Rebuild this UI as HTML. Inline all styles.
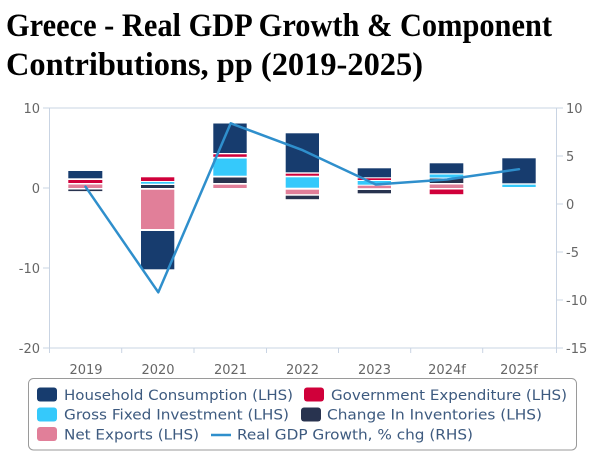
<!DOCTYPE html>
<html>
<head>
<meta charset="utf-8">
<style>
  html, body { margin: 0; padding: 0; background: #ffffff; }
  body { width: 600px; height: 458px; overflow: hidden; }
  svg { display: block; }
  .ttl { font-family: "Liberation Serif", "DejaVu Serif", serif; font-weight: bold; font-size: 33px; fill: #000; }
  .ax { font-family: "DejaVu Sans", "Liberation Sans", sans-serif; font-size: 13px; fill: #666666; }
  .lg { font-family: "DejaVu Sans", "Liberation Sans", sans-serif; font-size: 14px; fill: #3d5a7f; }
</style>
</head>
<body>
<svg width="600" height="458" viewBox="0 0 600 458" xmlns="http://www.w3.org/2000/svg">
  <!-- Title -->
  <text class="ttl" x="6" y="36" textLength="546" lengthAdjust="spacingAndGlyphs">Greece - Real GDP Growth &amp; Component</text>
  <text class="ttl" x="6" y="75" textLength="417" lengthAdjust="spacingAndGlyphs">Contributions, pp (2019-2025)</text>

  <!-- Frame / axes -->
  <g stroke="#c9d4e3" stroke-width="1" fill="none">
    <line x1="48" y1="108" x2="557" y2="108"/>
    <line x1="49.5" y1="108" x2="49.5" y2="353"/>
    <line x1="556.5" y1="108" x2="556.5" y2="353"/>
    <line x1="43" y1="348" x2="563" y2="348"/>
    <!-- left ticks -->
    <line x1="43" y1="108" x2="49.5" y2="108"/>
    <line x1="43" y1="188" x2="49.5" y2="188"/>
    <line x1="43" y1="268" x2="49.5" y2="268"/>
    <line x1="43" y1="348" x2="49.5" y2="348"/>
    <!-- right ticks -->
    <line x1="556.5" y1="108" x2="563" y2="108"/>
    <line x1="556.5" y1="156" x2="563" y2="156"/>
    <line x1="556.5" y1="204" x2="563" y2="204"/>
    <line x1="556.5" y1="252" x2="563" y2="252"/>
    <line x1="556.5" y1="300" x2="563" y2="300"/>
    <line x1="556.5" y1="348" x2="563" y2="348"/>
    <!-- bottom ticks -->
    <line x1="121.7" y1="348" x2="121.7" y2="353"/>
    <line x1="194" y1="348" x2="194" y2="353"/>
    <line x1="266.5" y1="348" x2="266.5" y2="353"/>
    <line x1="338.5" y1="348" x2="338.5" y2="353"/>
    <line x1="410.7" y1="348" x2="410.7" y2="353"/>
    <line x1="482.7" y1="348" x2="482.7" y2="353"/>
  </g>

  <!-- Left axis labels -->
  <g class="ax" text-anchor="end">
    <text x="40" y="113">10</text>
    <text x="40" y="193">0</text>
    <text x="40" y="273">-10</text>
    <text x="40" y="353">-20</text>
  </g>
  <!-- Right axis labels -->
  <g class="ax" text-anchor="start">
    <text x="566" y="113">10</text>
    <text x="566" y="161">5</text>
    <text x="566" y="209">0</text>
    <text x="566" y="257">-5</text>
    <text x="566" y="305">-10</text>
    <text x="566" y="353">-15</text>
  </g>
  <!-- Category labels -->
  <g class="ax" text-anchor="middle">
    <text x="86" y="374">2019</text>
    <text x="158" y="374">2020</text>
    <text x="230.5" y="374">2021</text>
    <text x="302.5" y="374">2022</text>
    <text x="374.5" y="374">2023</text>
    <text x="447" y="374">2024f</text>
    <text x="519" y="374">2025f</text>
  </g>

  <!-- Bars -->
  <!-- 2019 -->
  <rect x="68.3" y="171" width="34" height="7.3" fill="#173c6e"/>
  <rect x="68.3" y="180" width="34" height="3" fill="#d0003a"/>
  <rect x="68.3" y="184.5" width="34" height="3.5" fill="#e17f99"/>
  <rect x="68.3" y="189.5" width="34" height="1.6" fill="#28334f"/>
  <!-- 2020 -->
  <rect x="141" y="177.3" width="33.3" height="3.7" fill="#d0003a"/>
  <rect x="141" y="182" width="33.3" height="1.7" fill="#35c9fb"/>
  <rect x="141" y="185" width="33.3" height="3" fill="#28334f"/>
  <rect x="141" y="189.7" width="33.3" height="39.3" fill="#e17f99"/>
  <rect x="141" y="231" width="33.3" height="38.3" fill="#173c6e"/>
  <!-- 2021 -->
  <rect x="213.3" y="123.5" width="33.4" height="29.5" fill="#173c6e"/>
  <rect x="213.3" y="154.3" width="33.4" height="2.5" fill="#d0003a"/>
  <rect x="213.3" y="158.5" width="33.4" height="17.2" fill="#35c9fb"/>
  <rect x="213.3" y="177.5" width="33.4" height="5.5" fill="#28334f"/>
  <rect x="213.3" y="184.7" width="33.4" height="3.3" fill="#e17f99"/>
  <!-- 2022 -->
  <rect x="285.7" y="133.3" width="33.3" height="39" fill="#173c6e"/>
  <rect x="285.7" y="173.7" width="33.3" height="2" fill="#d0003a"/>
  <rect x="285.7" y="177.3" width="33.3" height="10.4" fill="#35c9fb"/>
  <rect x="285.7" y="189.7" width="33.3" height="4.5" fill="#e17f99"/>
  <rect x="285.7" y="195.7" width="33.3" height="3.5" fill="#28334f"/>
  <!-- 2023 -->
  <rect x="357.7" y="168.3" width="33.3" height="9" fill="#173c6e"/>
  <rect x="357.7" y="178.3" width="33.3" height="1.7" fill="#d0003a"/>
  <rect x="357.7" y="181" width="33.3" height="3.7" fill="#35c9fb"/>
  <rect x="357.7" y="185.7" width="33.3" height="2.5" fill="#e17f99"/>
  <rect x="357.7" y="190" width="33.3" height="3.3" fill="#28334f"/>
  <!-- 2024f -->
  <rect x="429.7" y="163.3" width="33.6" height="10" fill="#173c6e"/>
  <rect x="429.7" y="174.5" width="33.6" height="3" fill="#35c9fb"/>
  <rect x="429.7" y="178.5" width="33.6" height="4.5" fill="#28334f"/>
  <rect x="429.7" y="184.5" width="33.6" height="3.5" fill="#e17f99"/>
  <rect x="429.7" y="189.5" width="33.6" height="4.7" fill="#d0003a"/>
  <!-- 2025f -->
  <rect x="502.3" y="158.3" width="33.4" height="25" fill="#173c6e"/>
  <rect x="502.3" y="184.7" width="33.4" height="2.3" fill="#35c9fb"/>

  <!-- GDP line -->
  <polyline points="85.5,186.7 158.3,292.3 230.7,123.3 302.7,150.2 375.8,184.5 447,179.5 519,169.2"
            fill="none" stroke="#2f8fcc" stroke-width="2.5" stroke-linejoin="round" stroke-linecap="round"/>

  <!-- Legend -->
  <rect x="28.5" y="378.5" width="548" height="71.5" rx="5" ry="5" fill="#ffffff" stroke="#9a9a9a" stroke-width="1"/>
  <rect x="37" y="387.5" width="20" height="14" rx="3" ry="3" fill="#173c6e"/>
  <text class="lg" x="64" y="400" textLength="229" lengthAdjust="spacingAndGlyphs">Household Consumption (LHS)</text>
  <rect x="304" y="387.5" width="20" height="14" rx="3" ry="3" fill="#d0003a"/>
  <text class="lg" x="331" y="400" textLength="236" lengthAdjust="spacingAndGlyphs">Government Expenditure (LHS)</text>

  <rect x="37" y="407.5" width="20" height="14" rx="3" ry="3" fill="#35c9fb"/>
  <text class="lg" x="64" y="419.5" textLength="225" lengthAdjust="spacingAndGlyphs">Gross Fixed Investment (LHS)</text>
  <rect x="301" y="407.5" width="20" height="14" rx="3" ry="3" fill="#28334f"/>
  <text class="lg" x="327" y="419.5" textLength="215" lengthAdjust="spacingAndGlyphs">Change In Inventories (LHS)</text>

  <rect x="37" y="427" width="20" height="14" rx="3" ry="3" fill="#e17f99"/>
  <text class="lg" x="64" y="439.5" textLength="135" lengthAdjust="spacingAndGlyphs">Net Exports (LHS)</text>
  <line x1="211" y1="435" x2="231" y2="435" stroke="#2f8fcc" stroke-width="2.5"/>
  <text class="lg" x="237" y="439.5" textLength="236" lengthAdjust="spacingAndGlyphs">Real GDP Growth, % chg (RHS)</text>
</svg>
</body>
</html>
